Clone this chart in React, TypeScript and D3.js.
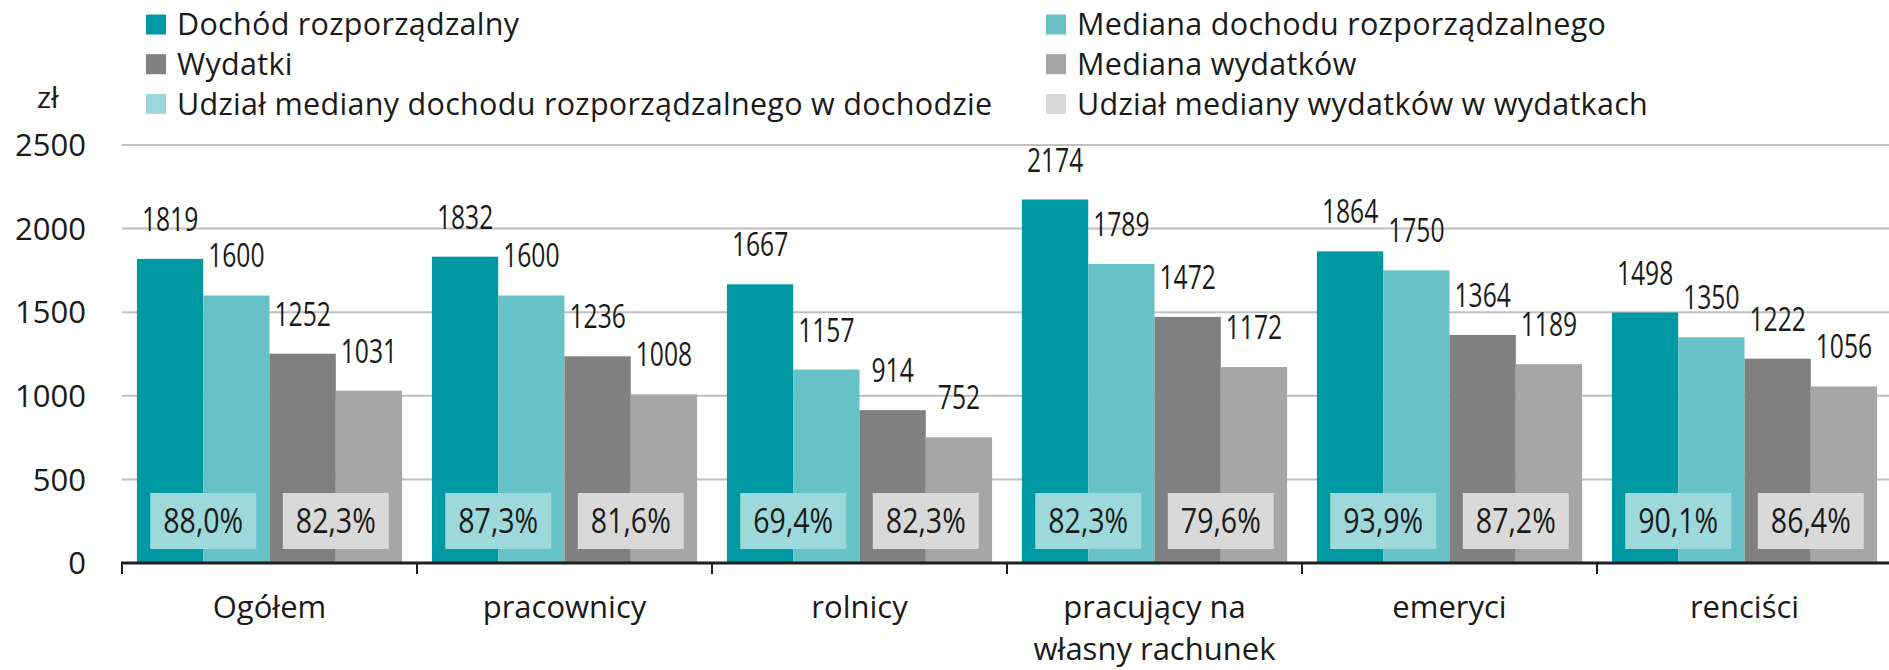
import React from "react";
import { scaleBand, scaleLinear } from "d3";

const categories = ["Ogółem", "pracownicy", "rolnicy", "pracujący na|własny rachunek", "emeryci", "renciści"];
const seriesNames = ["Dochód rozporządzalny", "Mediana dochodu rozporządzalnego", "Wydatki", "Mediana wydatków"];
const income = [1819, 1832, 1667, 2174, 1864, 1498];
const incomeMedian = [1600, 1600, 1157, 1789, 1750, 1350];
const expenses = [1252, 1236, 914, 1472, 1364, 1222];
const expensesMedian = [1031, 1008, 752, 1172, 1189, 1056];
const incomeShare = [88.0, 87.3, 69.4, 82.3, 93.9, 90.1];
const expensesShare = [82.3, 81.6, 82.3, 79.6, 87.2, 86.4];
const yTicks = [0, 500, 1000, 1500, 2000, 2500];

const colors = ["#0099a3", "#67c2c8", "#808080", "#a6a6a6"];
const shareColors = ["#9dd8db", "#d9d9d9"];
const legendItems = [
  { label: "Dochód rozporządzalny", color: colors[0] },
  { label: "Mediana dochodu rozporządzalnego", color: colors[1] },
  { label: "Wydatki", color: colors[2] },
  { label: "Mediana wydatków", color: colors[3] },
  { label: "Udział mediany dochodu rozporządzalnego w dochodzie", color: shareColors[0] },
  { label: "Udział mediany wydatków w wydatkach", color: shareColors[1] },
];

const W = 1889;
const H = 670;
const font = "'Open Sans', 'Noto Sans', sans-serif";
const weight = 500;
const fmt = (v: number) => v.toFixed(1).replace(".", ",") + "%";

// condensed look: no narrow font installed, so squeeze horizontally
const NarrowText = ({ x, y, size, sx, dy, children }: any) => (
  <text
    transform={`translate(${x},${y}) scale(${sx},1)`}
    dy={dy}
    textAnchor="middle"
    fontFamily={font}
    fontWeight={weight}
    fontSize={size}
    fill="#1a1a1a"
  >
    {children}
  </text>
);

export default function App() {
  const values = [income, incomeMedian, expenses, expensesMedian];

  const x = scaleBand().domain(categories).range([122, 1892]).padding(0);
  const xInner = scaleBand()
    .domain(seriesNames)
    .range([0, x.bandwidth()])
    .paddingInner(0)
    .paddingOuter(0.225);
  const y = scaleLinear().domain([0, 2500]).range([563, 145]);

  const boxW = 106;
  const boxH = 56;
  const boxBottom = y(0) - 14;

  return (
    <svg width={W} height={H} style={{ position: "absolute", left: 0, top: 0, background: "#fff" }}>
      {/* legend */}
      {legendItems.map((d, i) => {
        const col = i % 2;
        const row = Math.floor(i / 2);
        const lx = col === 0 ? 146 : 1046;
        const cy = 24.5 + row * 39.7;
        return (
          <g key={d.label}>
            <rect x={lx} y={cy - 10} width={20} height={20} fill={d.color} />
            <text
              x={lx + 31}
              y={cy}
              dy="0.36em"
              fontFamily={font}
              fontWeight={weight}
              fontSize={30.5}
              letterSpacing={0.3}
              fill="#1a1a1a"
            >
              {d.label}
            </text>
          </g>
        );
      })}
      <text x={37} y={97} dy="0.36em" fontFamily={font} fontWeight={weight} fontSize={30} fill="#1a1a1a">zł</text>

      {/* grid + y ticks */}
      {yTicks.map((t) => (
        <g key={t}>
          {t > 0 && <line x1={122} x2={W} y1={y(t)} y2={y(t)} stroke="#c0c0c0" strokeWidth={2} />}
          <text
            x={86}
            y={y(t)}
            dy="0.36em"
            textAnchor="end"
            fontFamily={font}
            fontWeight={weight}
            fontSize={31}
            fill="#1a1a1a"
          >
            {t}
          </text>
        </g>
      ))}

      {/* bars */}
      {categories.map((c, ci) => (
        <g key={c} transform={`translate(${x(c)},0)`}>
          {seriesNames.map((s, si) => {
            const v = values[si][ci];
            const bx = xInner(s)!;
            return (
              <g key={s}>
                <rect x={bx} y={y(v)} width={xInner.bandwidth()} height={y(0) - y(v)} fill={colors[si]} />
                <NarrowText x={bx + xInner.bandwidth() / 2} y={y(v) - 28} size={32} sx={0.77}>
                  {v}
                </NarrowText>
              </g>
            );
          })}
          {[incomeShare[ci], expensesShare[ci]].map((p, pi) => {
            const cx = xInner(seriesNames[pi * 2 + 1])!;
            return (
              <g key={pi}>
                <rect x={cx - boxW / 2} y={boxBottom - boxH} width={boxW} height={boxH} fill={shareColors[pi]} />
                <NarrowText x={cx} y={boxBottom - boxH / 2} dy="0.36em" size={34} sx={0.84}>
                  {fmt(p)}
                </NarrowText>
              </g>
            );
          })}
        </g>
      ))}

      {/* x axis */}
      <line x1={121} x2={W} y1={y(0)} y2={y(0)} stroke="#1f1f1f" strokeWidth={3} />
      {categories.map((c) => (
        <line key={c} x1={x(c)!} x2={x(c)!} y1={y(0)} y2={y(0) + 11} stroke="#1f1f1f" strokeWidth={2} />
      ))}
      {categories.map((c) => (
        <text
          key={c}
          x={x(c)! + x.bandwidth() / 2}
          y={618}
          textAnchor="middle"
          fontFamily={font}
          fontWeight={weight}
          fontSize={31}
          fill="#1a1a1a"
        >
          {c.split("|").map((line, li) => (
            <tspan key={li} x={x(c)! + x.bandwidth() / 2} dy={li === 0 ? 0 : 42}>
              {line}
            </tspan>
          ))}
        </text>
      ))}
    </svg>
  );
}
